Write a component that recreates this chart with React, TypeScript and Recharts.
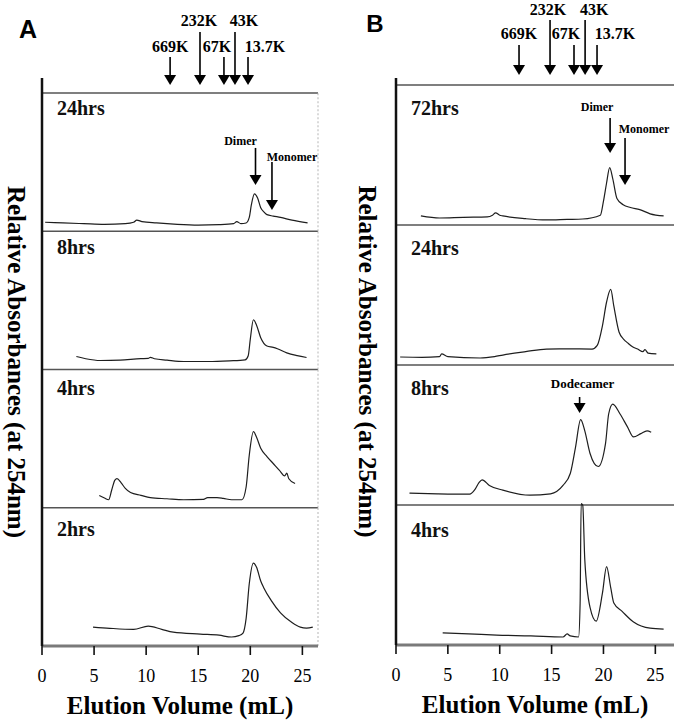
import React from 'react';
import { LineChart, Line, XAxis, YAxis, ReferenceLine, ReferenceDot } from 'recharts';

// ---------- data ----------
const xTicks = [0, 5, 10, 15, 20, 25];

const markerLabels = ['669K', '232K', '67K', '43K', '13.7K'];
const markerRows = ['low', 'high', 'low', 'high', 'low'];
const markerVolA = [12.3, 15.17, 17.47, 18.53, 19.78];
const markerVolB = [11.86, 14.85, 17.16, 18.23, 19.38];

const bandNamesA = ['24hrs', '8hrs', '4hrs', '2hrs'];
const bandNamesB = ['72hrs', '24hrs', '8hrs', '4hrs'];

// [elution volume (mL), relative absorbance (0-100 of its strip)]
const traceA24 = [[0.3, 6.5], [2, 6], [4, 5.5], [6, 5], [8, 5.5], [8.8, 6.5], [9.1, 8], [9.6, 7], [11, 6], [13, 5], [15, 4.5], [17, 4.8], [18.4, 5.5], [18.7, 7], [19.1, 5.5], [19.6, 6], [19.9, 10], [20.1, 19], [20.4, 27], [20.7, 24], [21.0, 17], [21.3, 14], [21.6, 12], [22.2, 11], [22.9, 10], [24, 8], [25.5, 6]];
const traceA8 = [[3.3, 9.4], [4.2, 7.8], [5.6, 6.5], [7.5, 6.8], [9.5, 7.8], [10.2, 8], [10.4, 8.8], [10.8, 7.8], [12, 6.8], [13.6, 5.8], [16, 5.8], [18, 6.3], [19.5, 7], [19.8, 10], [20.0, 22], [20.3, 36], [20.6, 32], [21.0, 23], [21.6, 17], [22.2, 16], [22.6, 15], [23.5, 12], [24.5, 10], [25.4, 8.7]];
const traceA4 = [[5.5, 8.8], [6.0, 7], [6.4, 5.8], [6.7, 13], [7.0, 20], [7.2, 21], [7.6, 18], [8.0, 14], [8.5, 11], [9.5, 9], [10.4, 7.3], [12, 6.5], [13.6, 5.8], [15.5, 6], [15.9, 7.3], [16.8, 7.3], [17.4, 6.8], [18.2, 5.8], [19.2, 5.8], [19.6, 15], [19.9, 38], [20.3, 55], [20.6, 51], [21.0, 43], [21.6, 37], [22.2, 32], [22.8, 27], [23.3, 23], [23.5, 25], [23.7, 21], [24.3, 17.5]];
const traceA2 = [[4.9, 13.7], [6.5, 12.8], [8.8, 12], [10.2, 14.4], [11.5, 12], [12.6, 10], [15.2, 8.6], [17, 7.8], [18.2, 6.5], [18.9, 7.5], [19.3, 9.4], [19.6, 20], [19.9, 45], [20.3, 60], [20.6, 57], [21.0, 47], [21.3, 42], [22.0, 33], [22.9, 24], [24.0, 17], [24.8, 13.7], [25.4, 13], [26.0, 13.7]];

const traceB72 = [[2.4, 6.5], [4.2, 5], [6.5, 5.5], [8.8, 5.8], [9.3, 7], [9.6, 8.7], [10.0, 7], [10.3, 6.5], [12.5, 4.5], [14.5, 3.6], [16.5, 4], [18.0, 4.3], [19.7, 7], [20.0, 17], [20.3, 30], [20.6, 41], [20.9, 33], [21.3, 19], [21.9, 14.5], [22.6, 12.5], [23.5, 11], [24.5, 8], [25.8, 6.5]];
const traceB24 = [[0.4, 5.7], [2.5, 5.5], [4.2, 6], [4.4, 7.9], [5, 6], [8.1, 5], [9.5, 6], [10.3, 7.1], [12.5, 9.5], [14.5, 11.4], [16.5, 11.5], [18.9, 11.4], [19.4, 14], [19.9, 28], [20.3, 45], [20.7, 54], [21.0, 42], [21.5, 23.6], [22.0, 18], [22.3, 16], [22.8, 13], [23.3, 11.4], [23.8, 9.5], [24.0, 11], [24.3, 8.5], [25.1, 7.9]];
const traceB8 = [[1.3, 8.5], [4, 8], [7.1, 7.7], [7.6, 11], [8.0, 16], [8.3, 18], [9.0, 14], [10.3, 10.6], [12.9, 7], [14.9, 8], [16.1, 14], [16.8, 22.5], [17.3, 41], [17.8, 61], [18.2, 53], [18.7, 37], [19.5, 27.5], [20.2, 44], [20.5, 65], [20.9, 72], [21.6, 65], [22.3, 56], [22.9, 48.6], [23.6, 51], [24.2, 53], [24.6, 52]];
const traceB4 = [[4.5, 8.6], [7, 8], [9.7, 7.1], [13, 6.5], [16.1, 5.7], [16.5, 7.9], [16.8, 6.5], [17.6, 5.7], [17.75, 30], [17.85, 101], [18.0, 100], [18.2, 61], [18.7, 27], [19.3, 17], [19.9, 37], [20.3, 56], [20.7, 41], [21.0, 30], [21.8, 24], [22.9, 16.4], [24.5, 12], [25.8, 11.4]];

// annotations: [label, band, volume, absorbance at arrow tip]
const notesA = [['Dimer', 0, 20.5, 33.5], ['Monomer', 0, 22.08, 15.4]];
const notesB = [['Dimer', 0, 20.64, 51.4], ['Monomer', 0, 22.08, 28.6], ['Dodecamer', 2, 17.7, 65.7]];

// ---------- layout / style ----------
const SERIF = '"Liberation Serif", "Times New Roman", serif';
const SANS = '"Liberation Sans", Arial, sans-serif';

const toRows = (pts: number[][]) => pts.map(([v, a]) => ({ v, a }));

type NoteStyle = { len: number; up: number; dx: number; size: number };

const panelA = {
  left: 0, width: 337, plotLeft: 42, plotRight: 318, axisTop: 78, bandTop: 93, bottom: 646, xMax: 26.5,
  names: bandNamesA, traces: [traceA24, traceA8, traceA4, traceA2], labelDy: [15, 16, 18, 21],
  markerVol: markerVolA, tipGap: 8, lowLen: 28, highLen: 53, lowText: 39, highText: 65, markerDx: [0, -1, -7, 9, 17],
  notes: notesA, noteStyle: [{ len: 37, up: 44, dx: -15, size: 12 }, { len: 48, up: 53, dx: 20, size: 12 }] as NoteStyle[],
  yLabelOffset: 26, rightEdge: true,
};
const panelB = {
  left: 337, width: 337, plotLeft: 59, plotRight: 337, axisTop: 78, bandTop: 85, bottom: 645, xMax: 26.8,
  names: bandNamesB, traces: [traceB72, traceB24, traceB8, traceB4], labelDy: [23, 23, 23, 25],
  markerVol: markerVolB, tipGap: 10, lowLen: 30, highLen: 55, lowText: 42, highText: 66, markerDx: [0, -2, -8, 9, 18],
  notes: notesB, noteStyle: [{ len: 35, up: 46, dx: -13, size: 12 }, { len: 47, up: 56, dx: 19, size: 12 }, { len: 16, up: 30, dx: 3, size: 13 }] as NoteStyle[],
  yLabelOffset: 29, rightEdge: false,
};

function DownArrow({ x, tipY, len }: { x: number; tipY: number; len: number }) {
  const head = 10, half = 6;
  return (
    <g>
      <line x1={x} y1={tipY - len} x2={x} y2={tipY - head + 1} stroke="#000" strokeWidth={1.6} />
      <path d={`M${x - half},${tipY - head} L${x + half},${tipY - head} L${x},${tipY} Z`} fill="#000" />
    </g>
  );
}

function Panel({ p }: { p: typeof panelA }) {
  const height = 720;
  const H = (p.bottom - p.bandTop) / 4;
  const s = 100 / H;
  const domains = [0, 1, 2, 3].map((k) => {
    const t = p.bandTop + k * H;
    const b = t + H;
    return [-(p.bottom - b) * s, 100 + (t - p.axisTop) * s];
  });
  return (
    <LineChart
      width={p.width}
      height={height}
      margin={{ top: p.axisTop, right: p.width - p.plotRight, bottom: 0, left: 0 }}
    >
      <XAxis
        xAxisId={0}
        type="number"
        dataKey="v"
        domain={[0, p.xMax]}
        allowDataOverflow
        ticks={xTicks}
        height={height - p.bottom}
        tickSize={9}
        tickMargin={14}
        axisLine={{ stroke: '#7a7a7a', strokeWidth: 3 }}
        tickLine={{ stroke: '#111', strokeWidth: 1.6 }}
        tick={{ fontSize: 18, fill: '#000', fontFamily: SERIF }}
        label={(props: any) => {
          const vb = props.viewBox;
          return (
            <text x={vb.x + vb.width / 2} y={vb.y + 68} textAnchor="middle" fontSize={25} fontWeight="bold" fontFamily={SERIF} fill="#000">
              Elution Volume (mL)
            </text>
          );
        }}
      />
      {domains.map((d, k) =>
        k === 0 ? (
          <YAxis
            key={`y${k}`}
            yAxisId={`b${k}`}
            type="number"
            domain={d}
            allowDataOverflow
            width={p.plotLeft}
            tick={false}
            tickLine={false}
            axisLine={{ stroke: '#111', strokeWidth: 2.5 }}
            label={(props: any) => {
              const vb = props.viewBox;
              const cx = vb.x + vb.width - p.yLabelOffset;
              const cy = vb.y + vb.height / 2;
              return (
                <text x={cx} y={cy} transform={`rotate(90, ${cx}, ${cy})`} textAnchor="middle" dominantBaseline="central" fontSize={25} fontWeight="bold" fontFamily={SERIF} fill="#000">
                  Relative Absorbances (at 254nm)
                </text>
              );
            }}
          />
        ) : (
          <YAxis key={`y${k}`} yAxisId={`b${k}`} hide type="number" domain={d} allowDataOverflow />
        )
      )}
      {p.names.map((name, k) => (
        <ReferenceLine
          key={`sep${k}`}
          yAxisId={`b${k}`}
          y={100}
          stroke="#555"
          strokeWidth={1.3}
          label={(props: any) => {
            const vb = props.viewBox;
            return (
              <text x={vb.x + 15} y={vb.y + p.labelDy[k]} dominantBaseline="central" fontSize={20} fontWeight="bold" fontFamily={SERIF} fill="#111">
                {name}
              </text>
            );
          }}
        />
      ))}
      {p.rightEdge &&
        [0, 1, 2, 3].map((k) => (
          <ReferenceLine
            key={`edge${k}`}
            yAxisId={`b${k}`}
            segment={[{ x: p.xMax, y: 0 }, { x: p.xMax, y: 100 }]}
            stroke="#b5b5b5"
            strokeWidth={1}
            strokeDasharray="2 2"
          />
        ))}
      {p.traces.map((tr, k) => (
        <Line
          key={`tr${k}`}
          yAxisId={`b${k}`}
          data={toRows(tr)}
          dataKey="a"
          type="monotone"
          stroke="#1e1e1e"
          strokeWidth={1.2}
          dot={false}
          activeDot={false}
          isAnimationActive={false}
        />
      ))}
      {markerLabels.map((lab, i) => (
        <ReferenceDot
          key={`m${i}`}
          yAxisId="b0"
          x={p.markerVol[i]}
          y={100}
          ifOverflow="visible"
          shape={(sp: any) => {
            const high = markerRows[i] === 'high';
            const tip = sp.cy - p.tipGap;
            return (
              <g>
                <DownArrow x={sp.cx} tipY={tip} len={high ? p.highLen : p.lowLen} />
                <text x={sp.cx + p.markerDx[i]} y={tip - (high ? p.highText : p.lowText)} textAnchor="middle" dominantBaseline="central" fontSize={16} fontWeight="bold" fontFamily={SERIF} fill="#000">
                  {lab}
                </text>
              </g>
            );
          }}
        />
      ))}
      {p.notes.map((n, i) => {
        const [lab, band, vol, abs] = n as [string, number, number, number];
        const st = p.noteStyle[i];
        return (
          <ReferenceDot
            key={`n${i}`}
            yAxisId={`b${band}`}
            x={vol}
            y={abs}
            ifOverflow="visible"
            shape={(sp: any) => (
              <g>
                <DownArrow x={sp.cx} tipY={sp.cy} len={st.len} />
                <text x={sp.cx + st.dx} y={sp.cy - st.up} textAnchor="middle" dominantBaseline="central" fontSize={st.size} fontWeight="bold" fontFamily={SERIF} fill="#000">
                  {lab}
                </text>
              </g>
            )}
          />
        );
      })}
    </LineChart>
  );
}

export default function App() {
  return (
    <div style={{ position: 'absolute', left: 0, top: 0, width: 674, height: 720, background: '#fff', overflow: 'hidden' }}>
      <div style={{ position: 'absolute', left: panelA.left, top: 0 }}>
        <Panel p={panelA} />
      </div>
      <div style={{ position: 'absolute', left: panelB.left, top: 0 }}>
        <Panel p={panelB as any} />
      </div>
      <svg width={674} height={720} style={{ position: 'absolute', left: 0, top: 0, pointerEvents: 'none' }}>
        <text x={28} y={29} textAnchor="middle" dominantBaseline="central" fontSize={25} fontWeight="bold" fontFamily={SANS} fill="#000">A</text>
        <text x={375} y={23} textAnchor="middle" dominantBaseline="central" fontSize={24} fontWeight="bold" fontFamily={SANS} fill="#000">B</text>
      </svg>
    </div>
  );
}
